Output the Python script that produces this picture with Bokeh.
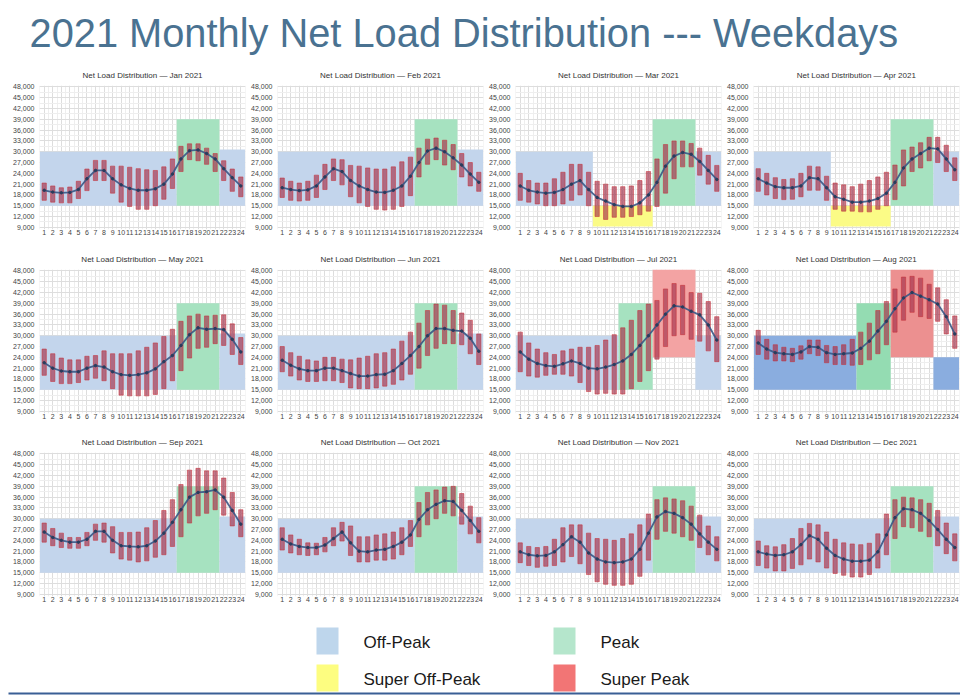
from bokeh.plotting import figure
from bokeh.layouts import column, row
from bokeh.models import Range1d, FixedTicker, NumeralTickFormatter
from bokeh.core.properties import value
from bokeh.embed import file_html
from bokeh.resources import INLINE

MAIN_TITLE = "2021 Monthly Net Load Distribution --- Weekdays"
HOURS = list(range(1, 25))
MONTHS = ["Jan", "Feb", "Mar", "Apr", "May", "Jun", "Jul", "Aug", "Sep", "Oct", "Nov", "Dec"]
Y_TICKS = [9000, 12000, 15000, 18000, 21000, 24000, 27000, 30000, 33000, 36000, 39000, 42000, 45000, 48000]

# Net load (thousand MW): box low, box high, mean, per hour 1..24
JAN_LO = [16.5, 16.0, 15.8, 15.8, 17.0, 19.2, 22.0, 22.0, 18.5, 16.0, 14.8, 14.0, 14.0, 15.0, 16.8, 19.8, 24.5, 27.8, 27.5, 26.5, 24.5, 22.0, 19.0, 17.5]
JAN_HI = [21.3, 20.5, 20.0, 20.2, 21.8, 25.2, 27.6, 27.6, 26.0, 26.0, 25.7, 25.3, 25.0, 24.8, 25.8, 28.0, 31.5, 32.2, 32.2, 31.0, 29.5, 27.5, 25.2, 23.0]
JAN_MEAN = [19.3, 18.8, 18.6, 18.7, 19.5, 22.5, 24.8, 24.8, 22.5, 20.8, 19.8, 19.3, 19.3, 19.7, 21.0, 23.8, 28.0, 30.3, 30.5, 29.5, 28.0, 25.3, 22.8, 20.5]

FEB_LO = [17.3, 16.5, 16.3, 16.5, 17.3, 19.5, 22.0, 20.8, 17.5, 15.8, 14.8, 14.0, 13.8, 14.0, 14.8, 17.8, 23.0, 26.5, 27.8, 26.3, 25.0, 23.0, 20.5, 19.0]
FEB_HI = [22.7, 21.8, 21.3, 21.8, 23.5, 26.5, 28.0, 27.8, 26.2, 26.0, 25.5, 25.2, 25.2, 25.8, 27.2, 28.5, 31.0, 33.5, 33.8, 33.2, 32.0, 29.5, 27.0, 24.3]
FEB_MEAN = [20.0, 19.5, 19.2, 19.4, 20.5, 23.0, 25.3, 24.5, 22.0, 20.5, 19.5, 18.8, 18.7, 19.3, 20.5, 23.2, 27.0, 30.2, 31.0, 30.0, 28.3, 26.3, 23.8, 21.5]

MAR_LO = [16.5, 16.0, 15.5, 15.0, 15.0, 15.5, 16.5, 18.0, 15.0, 12.0, 11.2, 11.8, 11.8, 12.0, 12.5, 13.5, 14.8, 18.5, 22.5, 25.8, 25.8, 23.5, 21.0, 19.0]
MAR_HI = [24.0, 22.0, 21.3, 21.3, 22.5, 24.3, 26.5, 26.5, 24.3, 21.8, 21.0, 20.3, 20.3, 20.5, 22.0, 24.5, 28.0, 32.0, 33.0, 33.0, 32.3, 31.0, 29.0, 26.2]
MAR_MEAN = [20.5, 19.3, 18.8, 18.5, 18.7, 19.5, 21.0, 22.0, 19.5, 17.3, 16.3, 15.3, 14.8, 14.8, 15.8, 18.0, 21.5, 26.0, 28.8, 29.8, 29.3, 27.3, 24.8, 22.3]

APR_LO = [19.0, 18.0, 17.0, 16.7, 16.8, 17.5, 19.3, 19.3, 16.5, 14.0, 13.5, 13.5, 13.3, 13.3, 14.0, 15.0, 16.7, 20.5, 24.5, 25.5, 27.5, 27.0, 24.5, 22.0]
APR_HI = [25.3, 24.0, 22.8, 22.3, 22.5, 24.0, 26.0, 25.8, 23.2, 21.3, 20.8, 20.3, 21.0, 22.0, 23.0, 24.3, 26.3, 30.5, 31.3, 32.5, 34.0, 34.0, 31.8, 28.3]
APR_MEAN = [22.5, 21.3, 20.3, 20.0, 20.0, 20.5, 22.8, 22.5, 20.0, 17.5, 16.8, 16.0, 16.0, 16.3, 17.0, 18.5, 21.5, 25.5, 28.0, 29.5, 31.0, 30.8, 28.0, 25.0]

MAY_LO = [19.0, 17.3, 16.7, 16.7, 17.0, 17.7, 18.2, 17.5, 15.3, 13.5, 13.3, 13.3, 13.3, 13.7, 15.3, 17.5, 20.3, 23.8, 26.5, 26.8, 27.8, 27.3, 24.8, 22.0]
MAY_HI = [26.3, 25.0, 23.8, 23.3, 23.3, 24.3, 24.5, 25.8, 25.0, 25.0, 25.0, 25.8, 26.8, 28.0, 29.8, 31.8, 34.0, 35.5, 36.0, 35.5, 35.7, 35.8, 33.3, 29.5]
MAY_MEAN = [22.5, 21.0, 20.2, 20.0, 20.0, 21.0, 21.7, 21.3, 20.0, 19.2, 19.0, 19.2, 19.7, 20.8, 22.8, 24.5, 27.3, 30.3, 32.2, 31.8, 32.0, 31.7, 29.0, 25.5]

JUN_LO = [20.0, 18.8, 17.7, 17.3, 17.3, 17.5, 17.5, 17.0, 15.5, 15.3, 15.3, 15.5, 16.0, 16.5, 17.7, 19.3, 21.0, 24.5, 26.5, 27.8, 27.8, 27.5, 25.0, 22.0]
JUN_HI = [27.0, 25.3, 24.3, 23.3, 23.0, 24.0, 24.0, 23.5, 23.3, 23.8, 24.3, 25.0, 25.3, 26.3, 28.5, 31.0, 33.5, 37.0, 38.8, 38.5, 37.0, 36.3, 34.3, 30.5]
JUN_MEAN = [23.2, 21.8, 20.8, 20.3, 20.3, 21.0, 21.0, 20.3, 19.5, 18.8, 18.8, 19.2, 19.3, 20.3, 22.3, 24.5, 27.0, 30.0, 32.0, 32.0, 31.5, 31.3, 29.3, 25.7]

JUL_LO = [20.0, 18.8, 18.5, 19.0, 19.3, 19.3, 18.8, 17.0, 14.5, 13.8, 14.0, 13.8, 13.8, 15.3, 17.3, 20.3, 23.5, 27.0, 30.0, 30.3, 29.0, 28.5, 25.8, 22.8]
JUL_HI = [31.0, 28.0, 26.3, 25.3, 24.8, 25.8, 26.3, 26.8, 26.8, 27.3, 28.8, 30.3, 32.2, 34.3, 37.0, 38.8, 39.8, 43.0, 44.5, 44.0, 42.0, 41.8, 39.5, 35.3]
JUL_MEAN = [25.5, 23.5, 22.3, 21.7, 21.5, 22.2, 23.0, 22.3, 21.0, 20.8, 21.3, 22.0, 23.0, 24.8, 27.3, 30.0, 33.0, 36.0, 38.3, 38.0, 36.8, 35.8, 33.0, 28.8]

AUG_LO = [24.8, 23.5, 23.0, 23.0, 22.8, 23.5, 25.0, 24.5, 22.5, 22.0, 22.0, 21.8, 22.0, 23.3, 25.0, 27.5, 31.0, 34.3, 36.5, 35.3, 34.8, 34.0, 30.5, 26.5]
AUG_HI = [31.5, 29.0, 27.5, 26.8, 26.5, 27.2, 28.8, 28.8, 27.3, 27.0, 27.5, 29.0, 31.0, 33.5, 37.0, 39.5, 43.0, 46.3, 46.5, 46.0, 44.3, 43.3, 40.0, 35.5]
AUG_MEAN = [28.0, 26.3, 25.3, 25.0, 24.8, 25.5, 27.0, 26.8, 25.3, 24.8, 25.0, 25.2, 26.5, 28.5, 31.3, 34.0, 37.5, 40.5, 42.0, 41.0, 40.0, 38.8, 35.3, 30.5]

SEP_LO = [23.5, 22.5, 22.0, 21.8, 21.8, 22.5, 24.0, 23.5, 20.5, 18.8, 18.5, 18.0, 18.3, 19.3, 20.0, 22.3, 25.0, 28.8, 30.8, 31.5, 32.5, 31.0, 28.0, 25.0]
SEP_HI = [28.8, 27.3, 26.0, 24.8, 24.8, 26.2, 28.5, 28.8, 27.8, 26.2, 26.2, 26.3, 27.5, 29.5, 32.3, 35.3, 39.5, 43.5, 44.0, 43.3, 43.3, 41.3, 37.3, 32.5]
SEP_MEAN = [26.3, 24.8, 24.0, 23.5, 23.5, 24.3, 26.5, 26.5, 24.0, 22.5, 22.3, 22.2, 22.5, 23.8, 26.0, 29.0, 32.5, 36.0, 37.3, 37.5, 38.0, 36.0, 32.3, 28.5]

OCT_LO = [21.3, 20.5, 20.0, 19.8, 20.0, 20.8, 22.5, 23.8, 19.8, 18.0, 18.0, 18.5, 18.5, 18.8, 20.0, 22.3, 25.0, 28.3, 30.0, 31.5, 30.8, 28.5, 25.8, 23.3]
OCT_HI = [27.5, 25.5, 24.3, 23.3, 23.2, 24.8, 27.5, 29.0, 28.0, 25.0, 25.0, 25.5, 25.8, 26.3, 27.5, 29.5, 34.5, 37.3, 38.0, 38.8, 39.0, 37.0, 33.5, 30.3]
OCT_MEAN = [24.3, 23.0, 22.3, 22.0, 22.0, 22.7, 24.5, 26.3, 23.3, 21.0, 20.8, 21.3, 21.5, 22.3, 23.5, 25.5, 29.8, 32.5, 34.0, 35.0, 34.8, 32.3, 29.5, 26.5]

NOV_LO = [17.8, 17.0, 16.5, 16.8, 17.0, 18.0, 19.5, 17.5, 14.5, 12.5, 11.8, 11.5, 11.5, 11.8, 14.0, 18.5, 24.3, 26.5, 26.0, 25.0, 24.0, 22.0, 20.0, 18.3]
NOV_HI = [23.3, 22.3, 22.0, 22.3, 24.3, 27.5, 28.3, 28.3, 26.0, 24.5, 24.3, 24.0, 24.5, 25.8, 28.3, 31.3, 35.3, 35.8, 35.5, 35.0, 33.5, 31.0, 28.0, 25.0]
NOV_MEAN = [20.8, 20.0, 19.7, 19.8, 20.8, 22.8, 25.0, 23.5, 20.5, 18.8, 18.0, 17.8, 18.0, 18.8, 21.5, 26.0, 30.5, 32.0, 31.5, 30.3, 28.5, 25.8, 23.5, 21.5]

DEC_LO = [17.0, 16.3, 15.5, 15.5, 16.2, 17.2, 18.8, 18.0, 16.3, 14.8, 14.3, 13.8, 13.8, 14.5, 16.3, 20.0, 24.5, 27.8, 27.5, 26.5, 25.0, 22.5, 20.3, 18.3]
DEC_HI = [23.8, 22.5, 22.2, 22.8, 24.5, 27.3, 28.7, 28.3, 26.3, 24.3, 23.3, 23.0, 22.8, 23.2, 25.8, 31.3, 35.3, 36.0, 35.8, 35.3, 34.3, 32.3, 28.8, 25.8]
DEC_MEAN = [20.8, 20.2, 19.8, 20.0, 20.8, 22.8, 25.3, 24.3, 21.8, 19.8, 18.8, 18.2, 18.2, 18.5, 20.8, 25.5, 30.3, 32.8, 32.5, 31.5, 29.5, 27.0, 24.3, 22.0]

# TOU period blocks: (period, first hour edge, last hour edge, low MW, high MW)
TOU_STANDARD = [("off", 0.5, 16.5, 15000, 30000), ("peak", 16.5, 21.5, 15000, 39000), ("off", 21.5, 24.5, 15000, 30600)]
TOU_SPRING = [("off", 0.5, 9.5, 15000, 30000), ("superoff", 9.5, 16.5, 9200, 15000), ("peak", 16.5, 21.5, 15000, 39000), ("off", 21.5, 24.5, 15000, 30000)]
TOU_JUL = [("off", 0.5, 12.5, 15000, 30000), ("peak", 12.5, 16.5, 15000, 39000), ("super", 16.5, 21.5, 24000, 48400), ("off", 21.5, 24.5, 15000, 30000)]
TOU_AUG = [("off", 0.5, 12.5, 15000, 30000), ("peak", 12.5, 16.5, 15000, 39000), ("super", 16.5, 21.5, 24000, 48400), ("off", 21.5, 24.5, 15000, 24000)]

LEGEND_LABELS = ["Off-Peak", "Peak", "Super Off-Peak", "Super Peak"]

PALETTE = {"off": "#c3d5ec", "peak": "#a6e2c0", "superoff": "#fbfb86", "super": "#f3a3a3"}
PALETTE_AUG = {"off": "#8aaddf", "peak": "#94dcb2", "superoff": "#fbfb86", "super": "#ec9090"}
LEGEND_COLORS = ["#bed6ec", "#b5e6cc", "#fdfd80", "#f27575"]

DATA = {
    "Jan": (JAN_LO, JAN_HI, JAN_MEAN, TOU_STANDARD),
    "Feb": (FEB_LO, FEB_HI, FEB_MEAN, TOU_STANDARD),
    "Mar": (MAR_LO, MAR_HI, MAR_MEAN, TOU_SPRING),
    "Apr": (APR_LO, APR_HI, APR_MEAN, TOU_SPRING),
    "May": (MAY_LO, MAY_HI, MAY_MEAN, TOU_STANDARD),
    "Jun": (JUN_LO, JUN_HI, JUN_MEAN, TOU_STANDARD),
    "Jul": (JUL_LO, JUL_HI, JUL_MEAN, TOU_JUL),
    "Aug": (AUG_LO, AUG_HI, AUG_MEAN, TOU_AUG),
    "Sep": (SEP_LO, SEP_HI, SEP_MEAN, TOU_STANDARD),
    "Oct": (OCT_LO, OCT_HI, OCT_MEAN, TOU_STANDARD),
    "Nov": (NOV_LO, NOV_HI, NOV_MEAN, TOU_STANDARD),
    "Dec": (DEC_LO, DEC_HI, DEC_MEAN, TOU_STANDARD),
}

FONT = "Liberation Sans"
W_TOTAL = 960


def make_panel(month, col, rw):
    lo, hi, mean, tou = DATA[month]
    pal = PALETTE_AUG if month == "Aug" else PALETTE
    width = 246 if col == 0 else 238
    left = 39 if col == 0 else 31
    height = 184 if rw == 0 else 183
    bottom = 17 if rw == 0 else 16
    p = figure(width=width, height=height, x_range=Range1d(0.45, 24.55), y_range=Range1d(8400, 48400),
               output_backend="svg", toolbar_location=None,
               min_border_left=left, min_border_right=1, min_border_top=22, min_border_bottom=bottom,
               title="Net Load Distribution \u2014 %s 2021" % month)
    p.title.text_font = FONT
    p.title.text_font_size = "8px"
    p.title.text_font_style = "normal"
    p.title.text_color = "#333333"
    p.title.align = "center"
    p.title.standoff = 12
    p.outline_line_color = None
    p.background_fill_color = "white"
    p.border_fill_color = "white"

    p.xaxis.ticker = FixedTicker(ticks=HOURS, minor_ticks=[h + 0.5 for h in range(0, 25)])
    p.yaxis.ticker = FixedTicker(ticks=Y_TICKS, minor_ticks=[t + 1500 for t in Y_TICKS])
    p.yaxis.formatter = NumeralTickFormatter(format="0,0")
    for ax in (p.xaxis, p.yaxis):
        ax.axis_line_color = None
        ax.major_tick_line_color = None
        ax.minor_tick_line_color = None
        ax.major_tick_out = 0
        ax.major_tick_in = 0
        ax.minor_tick_out = 0
        ax.minor_tick_in = 0
        ax.major_label_text_font = FONT
        ax.major_label_text_font_size = "7px"
        ax.major_label_text_color = "#444444"
    p.xaxis.major_label_standoff = 0
    p.yaxis.major_label_standoff = 5
    p.xgrid.grid_line_color = "#dddddd"
    p.ygrid.grid_line_color = "#dddddd"
    p.xgrid.minor_grid_line_color = "#eeeeee"
    p.ygrid.minor_grid_line_color = "#eeeeee"

    p.quad(left=[b[1] for b in tou], right=[b[2] for b in tou],
           bottom=[b[3] for b in tou], top=[b[4] for b in tou],
           fill_color=[pal[b[0]] for b in tou], fill_alpha=1.0, line_color=None)

    p.vbar(x=HOURS, width=0.5, bottom=[v * 1000 for v in lo], top=[v * 1000 for v in hi],
           fill_color="#a3304a", fill_alpha=0.66, line_color="#c8323c", line_width=0.7, line_alpha=0.8)
    mean_mw = [v * 1000 for v in mean]
    p.line(HOURS, mean_mw, line_color="#3a5685", line_width=1.8, line_alpha=0.9)
    p.scatter(HOURS, mean_mw, size=2.5, color="#2a3c5c")
    return p


title_fig = figure(width=W_TOTAL, height=62, x_range=Range1d(0, W_TOTAL), y_range=Range1d(62, 0),
                   x_axis_type=None, y_axis_type=None, output_backend="svg", toolbar_location=None,
                   min_border=0)
title_fig.grid.visible = False
title_fig.outline_line_color = None
title_fig.text(x=[29], y=[32], text=[MAIN_TITLE], text_font=value(FONT), text_font_size="39.8px",
               text_color="#4a7291", text_baseline="middle", text_align="left")

rows = []
for r in range(3):
    rows.append(row(*[make_panel(MONTHS[r * 4 + c], c, r) for c in range(4)]))

leg = figure(width=W_TOTAL, height=84, x_range=Range1d(0, W_TOTAL), y_range=Range1d(84, 0),
             x_axis_type=None, y_axis_type=None, output_backend="svg", toolbar_location=None,
             min_border=0)
leg.grid.visible = False
leg.outline_line_color = None
sq_x = [316, 553, 316, 553]
sq_y = [15, 15, 52, 52]
leg.quad(left=sq_x, right=[x + 22 for x in sq_x], top=sq_y, bottom=[y + 27 for y in sq_y],
         fill_color=LEGEND_COLORS, line_color=None)
leg.text(x=[x + 47 for x in sq_x], y=[y + 15 for y in sq_y], text=LEGEND_LABELS,
         text_font=value(FONT), text_font_size="17px", text_color="#1a1a1a", text_baseline="middle")
leg.segment(x0=[8], y0=[81], x1=[W_TOTAL], y1=[81], line_color="#3a5f95", line_width=2)

layout = column(title_fig, *rows, leg)

with open("out.html", "w") as f:
    f.write(file_html(layout, INLINE))
